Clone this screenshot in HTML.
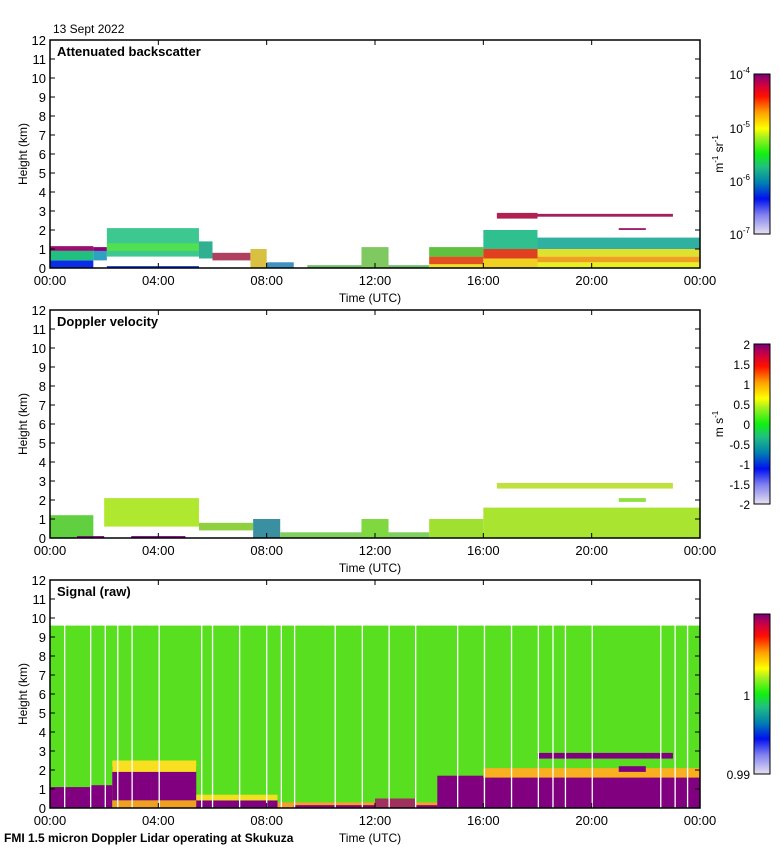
<!DOCTYPE html>
<html><head><meta charset="utf-8"><style>
html,body{margin:0;padding:0;background:#fff;}
svg{display:block;font-family:"Liberation Sans",sans-serif;}
</style></head><body>
<svg id="fig" width="780" height="850" viewBox="0 0 780 850" xmlns="http://www.w3.org/2000/svg">
<defs>
<linearGradient id="cmap" x1="0" y1="1" x2="0" y2="0">
<stop offset="0" stop-color="#e6e0f0"/><stop offset="0.12" stop-color="#8080f0"/>
<stop offset="0.22" stop-color="#0010f0"/><stop offset="0.32" stop-color="#0080b0"/>
<stop offset="0.42" stop-color="#20c080"/><stop offset="0.5" stop-color="#10f010"/>
<stop offset="0.6" stop-color="#a0f020"/><stop offset="0.66" stop-color="#ffff00"/>
<stop offset="0.76" stop-color="#ffa000"/><stop offset="0.86" stop-color="#ff1000"/>
<stop offset="0.93" stop-color="#d00040"/><stop offset="1" stop-color="#780078"/>
</linearGradient>
</defs>
<text x="53" y="33" font-size="12">13 Sept 2022</text>
<text x="4" y="842" font-size="12" font-weight="bold">FMI 1.5 micron Doppler Lidar operating at Skukuza</text>
</svg>
<script>
// ---- data ----
const xTickLabels = ["00:00","04:00","08:00","12:00","16:00","20:00","00:00"];
const xTickHours = [0,4,8,12,16,20,24];
const yTickKm = [0,1,2,3,4,5,6,7,8,9,10,11,12];
const panelTitles = ["Attenuated backscatter","Doppler velocity","Signal (raw)"];
const panelTops = [40,310,580];
// backscatter bands: start h, end h, base km, top km, color
const bsStart = [0,0,0,1.6,1.6,2.1,2.1,2.1,5.5,6.0,7.4,8.0,9.5,11.5,14,14,14,16,16,16,18,18,18,18,16.5,18,21];
const bsEnd   = [1.6,1.6,1.6,2.1,2.1,5.5,5.5,5.5,6.0,7.4,8.0,9.0,14,12.5,16,16,16,18,18,18,24,24,24,24,18,23,22];
const bsBase  = [0,0.4,0.9,0.4,0.9,0.6,0.9,0,0.5,0.4,0,0,0,0,0,0.2,0.6,0,0.5,1.0,0,0.3,0.6,1.0,2.6,2.7,2.0];
const bsTop   = [0.4,0.9,1.15,1.0,1.1,2.1,1.3,0.1,1.4,0.8,1.0,0.3,0.15,1.1,0.2,0.6,1.1,0.5,1.0,2.0,0.3,0.6,1.0,1.6,2.9,2.85,2.1];
const bsColor = ["#0a2ee8","#20c080","#9a1070","#30a0c0","#900080","#3cc890","#50e050","#1040d0","#30b090","#b04060","#d8c040","#4090c0","#70c070","#80c860","#f0e020","#e05020","#60c040","#f0d020","#e04020","#30c090","#e8f020","#f0a020","#e0e030","#30b0a0","#b02050","#a02060","#a02070"];
// doppler bands
const dvStart = [0,2,5.5,7.5,8.5,11.5,14,16,16.5,21,1,3];
const dvEnd   = [1.6,5.5,7.5,8.5,14,12.5,16,24,23,22,2,5];
const dvBase  = [0,0.6,0.4,0,0,0,0,0,2.6,1.9,0,0];
const dvTop   = [1.2,2.1,0.8,1.0,0.3,1.0,1.0,1.6,2.9,2.1,0.1,0.1];
const dvColor = ["#60d040","#b0e830","#90d040","#3a90a0","#80d060","#80d840","#a0e030","#a8e430","#c0e040","#90e040","#800080","#800080"];
// signal bands
const sgStart = [0,0,1.5,2.3,2.3,2.3,5.4,5.4,8.4,14.3,16,16,18,21,9,12];
const sgEnd   = [24,1.5,2.3,5.4,5.4,5.4,8.4,8.4,14.3,16,24,24,23,22,14.3,13.5];
const sgBase  = [0,0,0,0.4,1.9,0,0,0.4,0,0,0,1.6,2.6,1.9,0,0];
const sgTop   = [9.6,1.1,1.2,2.2,2.5,0.4,0.4,0.7,0.3,1.7,1.7,2.1,2.9,2.2,0.15,0.5];
const sgColor = ["#58e020","#800080","#800080","#800080","#f8e020","#f0a020","#800080","#f0e020","#f0a030","#800080","#800080","#f8b020","#800080","#800080","#900070","#a03060"];
const gapHours = [0.54,1.5,2.04,2.5,3.03,4.03,5.6,6.0,7.0,8.0,8.54,9.03,10.53,11.53,12.52,13.5,15.05,16.04,17.04,18.03,18.57,19.03,20.02,22.55,23.08,23.54];
const cbLabels = [["10","-4"],["10","-5"],["10","-6"],["10","-7"]];
const dvCbLabels = ["2","1.5","1","0.5","0","-0.5","-1","-1.5","-2"];

// ---- drawing ----
const NS="http://www.w3.org/2000/svg";
const svg=document.getElementById('fig');
const X0=50,X1=700,PH=228;
function xs(h){return X0+(X1-X0)*h/24;}
function ys(top,km){return top+PH-PH*km/12;}
function mk(tag,attrs,parent){const e=document.createElementNS(NS,tag);for(const k in attrs)e.setAttribute(k,attrs[k]);(parent||svg).appendChild(e);return e;}

function drawBands(top,S,E,B,T,C,name){
  const g=mk('g',{});
  
  
  for(let i=0;i<S.length;i++){
    const r=mk('rect',{x:xs(S[i]),y:ys(top,T[i]),width:xs(E[i])-xs(S[i]),height:ys(top,B[i])-ys(top,T[i]),fill:C[i]},g);
    
    
  }
  return g;
}
function drawAxes(p,top){
  const g=mk('g',{});
  
  
  mk('rect',{x:X0,y:top,width:X1-X0,height:PH,fill:'none',stroke:'#000','stroke-width':1.5},g);
  yTickKm.forEach(k=>{
    const y=ys(top,k);
    mk('line',{x1:X0,x2:X0+5,y1:y,y2:y,stroke:'#000'},g);
    mk('line',{x1:X1-5,x2:X1,y1:y,y2:y,stroke:'#000'},g);
    const t=mk('text',{x:46,y:y+5,'font-size':13,'text-anchor':'end'},g);t.textContent=k;
    
    
  });
  xTickHours.forEach((h,i)=>{
    const x=xs(h);
    mk('line',{x1:x,x2:x,y1:top,y2:top+5,stroke:'#000'},g);
    mk('line',{x1:x,x2:x,y1:top+PH-5,y2:top+PH,stroke:'#000'},g);
    const t=mk('text',{x:x,y:top+PH+17,'font-size':13,'text-anchor':'middle'},g);t.textContent=xTickLabels[i];
    
    
  });
  const xt=mk('text',{x:370,y:top+PH+34,'font-size':12,'text-anchor':'middle'},g);xt.textContent='Time (UTC)';
  
  
  const yt=mk('text',{x:0,y:0,'font-size':12,'text-anchor':'middle',transform:`translate(27,${top+PH/2}) rotate(-90)`},g);yt.textContent='Height (km)';
  
  
  const tt=mk('text',{x:57,y:top+16,'font-size':13,'font-weight':'bold'},g);tt.textContent=panelTitles[p];
  
  
}
function colorbar(y0,y1,name){
  const r=mk('rect',{x:754,y:y0,width:16,height:y1-y0,fill:'url(#cmap)',stroke:'#000','stroke-width':1});
  
  
}

drawBands(panelTops[0],bsStart,bsEnd,bsBase,bsTop,bsColor,'backscatter');
drawBands(panelTops[1],dvStart,dvEnd,dvBase,dvTop,dvColor,'doppler');
drawBands(panelTops[2],sgStart,sgEnd,sgBase,sgTop,sgColor,'signal');
// white gaps in signal panel
const gg=mk('g',{});


gapHours.forEach(h=>{mk('rect',{x:xs(h)-0.6,y:ys(580,9.6),width:1.3,height:ys(580,0)-ys(580,9.6),fill:'#fff'},gg);});
for(let p=0;p<3;p++)drawAxes(p,panelTops[p]);

// colorbars
colorbar(74,234,'backscatter-colorbar');
colorbar(344,504,'doppler-colorbar');
colorbar(614,774,'signal-colorbar');
[74,128,181,234].forEach((y,i)=>{
  const t=mk('text',{x:750,y:y+5,'font-size':12,'text-anchor':'end'});
  
  
  t.textContent=cbLabels[i][0];
  const s=mk('tspan',{'font-size':8,dy:-6},t);s.textContent=cbLabels[i][1];
});
const u1=mk('text',{x:0,y:0,'font-size':12,'text-anchor':'middle',transform:'translate(723,154) rotate(-90)'});


u1.innerHTML='m<tspan font-size="8" dy="-5">-1</tspan><tspan dy="5"> sr</tspan><tspan font-size="8" dy="-5">-1</tspan>';
dvCbLabels.forEach((l,i)=>{
  const t=mk('text',{x:750,y:344+i*20+5,'font-size':12,'text-anchor':'end'});t.textContent=l;
  
  
});
const u2=mk('text',{x:0,y:0,'font-size':12,'text-anchor':'middle',transform:'translate(723,424) rotate(-90)'});


u2.innerHTML='m s<tspan font-size="8" dy="-5">-1</tspan>';
[["1",695],["0.99",774]].forEach(([l,y])=>{
  const t=mk('text',{x:750,y:y+5,'font-size':12,'text-anchor':'end'});t.textContent=l;
  
  
});
</script>
</body></html>
